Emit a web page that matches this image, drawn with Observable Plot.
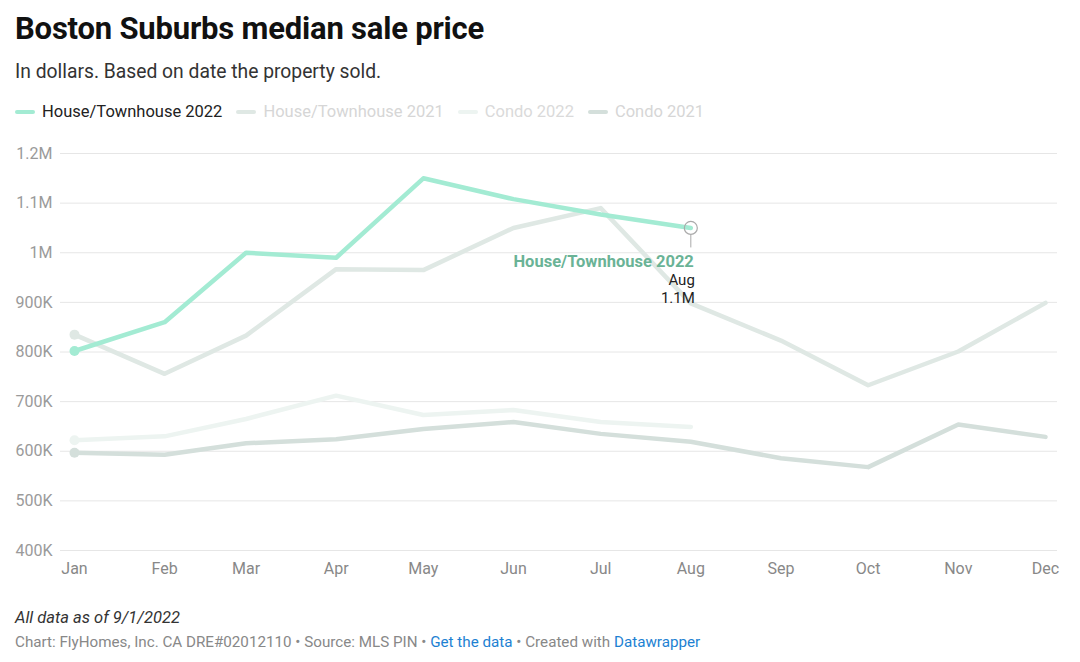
<!DOCTYPE html>
<html>
<head>
<meta charset="utf-8">
<script src="https://cdn.jsdelivr.net/npm/d3@7"></script>
<script src="https://cdn.jsdelivr.net/npm/@observablehq/plot@0.6"></script>
<style>
  html, body { margin: 0; padding: 0; background: #fff; }
  body { font-family: Roboto, "Noto Sans", sans-serif; width: 1080px; height: 662px; overflow: hidden; }
  #title { position: absolute; left: 15px; top: 10px; font-size: 31px; font-weight: 700; color: #111; letter-spacing: -0.2px; }
  #subtitle { position: absolute; left: 15px; top: 60px; font-size: 19.3px; color: #333; }
  #legend { position: absolute; left: 15px; top: 102px; display: flex; align-items: center; font-size: 16.5px; }
  .item { display: flex; align-items: center; margin-right: 14px; }
  .sw { width: 20px; height: 4px; border-radius: 2px; margin-right: 7px; }
  #chart { position: absolute; left: 0; top: 140px; }
  #note { position: absolute; left: 15px; top: 608px; font-size: 16.5px; font-style: italic; color: #333; }
  #credit { position: absolute; left: 15px; top: 633px; font-size: 15.2px; color: #888; }
  #credit a { color: #1d81d2; text-decoration: none; }
</style>
</head>
<body>
<div id="title">Boston Suburbs median sale price</div>
<div id="subtitle">In dollars. Based on date the property sold.</div>
<div id="legend"></div>
<div id="chart"></div>
<div id="note">All data as of 9/1/2022</div>
<div id="credit">Chart: FlyHomes, Inc. CA DRE#02012110 • Source: MLS PIN • <a>Get the data</a> • Created with <a>Datawrapper</a></div>
<script>
const months = ["Jan","Feb","Mar","Apr","May","Jun","Jul","Aug","Sep","Oct","Nov","Dec"];
const house2022 = [802000, 860000, 1000000, 990000, 1150000, 1108000, 1077000, 1050000];
const house2021 = [835000, 756000, 833000, 967000, 965000, 1050000, 1090000, 898000, 823000, 733000, 801000, 899000];
const condo2022 = [622000, 630000, 665000, 712000, 673000, 683000, 659000, 649000];
const condo2021 = [597000, 593000, 616000, 624000, 645000, 659000, 635000, 619000, 586000, 568000, 654000, 629000];
const seriesNames = ["House/Townhouse 2022", "House/Townhouse 2021", "Condo 2022", "Condo 2021"];
const seriesColors = ["#a3ebd3", "#dfe8e4", "#edf4f1", "#d4dfdb"];
const legendText = ["#222", "#d6d6d6", "#dadada", "#d6d6d6"];
const yTicks = [400000, 500000, 600000, 700000, 800000, 900000, 1000000, 1100000, 1200000];

const seriesValues = [house2022, house2021, condo2022, condo2021];
const rows = [];
seriesValues.forEach((vals, i) => vals.forEach((v, m) => rows.push({series: seriesNames[i], date: new Date(Date.UTC(2022, m, 1)), month: months[m], value: v})));
const bySeries = s => rows.filter(d => d.series === s);
const firsts = seriesNames.map(s => bySeries(s)[0]);
const lastMain = bySeries(seriesNames[0]).slice(-1)[0];

// legend
const leg = document.getElementById("legend");
seriesNames.forEach((s, i) => {
  const it = document.createElement("div"); it.className = "item";
  it.innerHTML = `<div class="sw" style="background:${seriesColors[i]}"></div><span style="color:${legendText[i]}">${s}</span>`;
  leg.appendChild(it);
});

const fmtY = v => v >= 1e6 ? (v / 1e6) + "M" : (v / 1e3) + "K";
const color = {domain: seriesNames, range: seriesColors};
const drawOrder = [seriesNames[2], seriesNames[3], seriesNames[1], seriesNames[0]];

const plot = Plot.plot({
  width: 1080, height: 450,
  marginLeft: 74, marginRight: 35, marginTop: 13, marginBottom: 40,
  style: {fontFamily: "Roboto, sans-serif", background: "transparent"},
  x: {type: "utc", domain: [new Date(Date.UTC(2022,0,1)), new Date(Date.UTC(2022,11,1))], label: null},
  y: {domain: [400000, 1200000], label: null},
  color,
  marks: [
    Plot.ruleY(yTicks, {stroke: "#e6e6e6", strokeWidth: 1, insetLeft: -14, insetRight: -12}),
    Plot.axisY(yTicks, {tickSize: 0, tickPadding: 22, tickFormat: fmtY, fontSize: 16, fill: "#9a9a9a", label: null}),
    Plot.axisX(months.map((m, i) => new Date(Date.UTC(2022, i, 1))), {tickSize: 0, tickPadding: 12, tickFormat: d3.utcFormat("%b"), fontSize: 16, fill: "#888", label: null}),
    ...drawOrder.map(s => Plot.line(bySeries(s), {x: "date", y: "value", stroke: seriesColors[seriesNames.indexOf(s)], strokeWidth: 4.5, strokeLinejoin: "round", strokeLinecap: "round"})),
    Plot.dot([firsts[2], firsts[3], firsts[1], firsts[0]], {x: "date", y: "value", r: 5, fill: d => seriesColors[seriesNames.indexOf(d.series)]}),
    Plot.ruleX([lastMain], {x: "date", y1: d => d.value, y2: d => d.value, stroke: "#aaa", strokeWidth: 1, insetTop: 7, insetBottom: -20}),
    Plot.dot([lastMain], {x: "date", y: "value", r: 6.5, stroke: "#aaa", strokeWidth: 1.2, fill: "none"}),
    Plot.text([lastMain], {x: "date", y: "value", text: d => d.series, dy: 34, dx: 3, textAnchor: "end", fontSize: 16.5, fontWeight: 700, fill: "#6ab396"}),
    Plot.text([lastMain], {x: "date", y: "value", text: d => d.month, dy: 52, dx: 4, textAnchor: "end", fontSize: 15, fill: "#222"}),
    Plot.text([lastMain], {x: "date", y: "value", text: d => d3.format(".2s")(d.value), dy: 70, dx: 4, textAnchor: "end", fontSize: 15, fill: "#222"})
  ]
});
document.getElementById("chart").appendChild(plot);
</script>
</body>
</html>
